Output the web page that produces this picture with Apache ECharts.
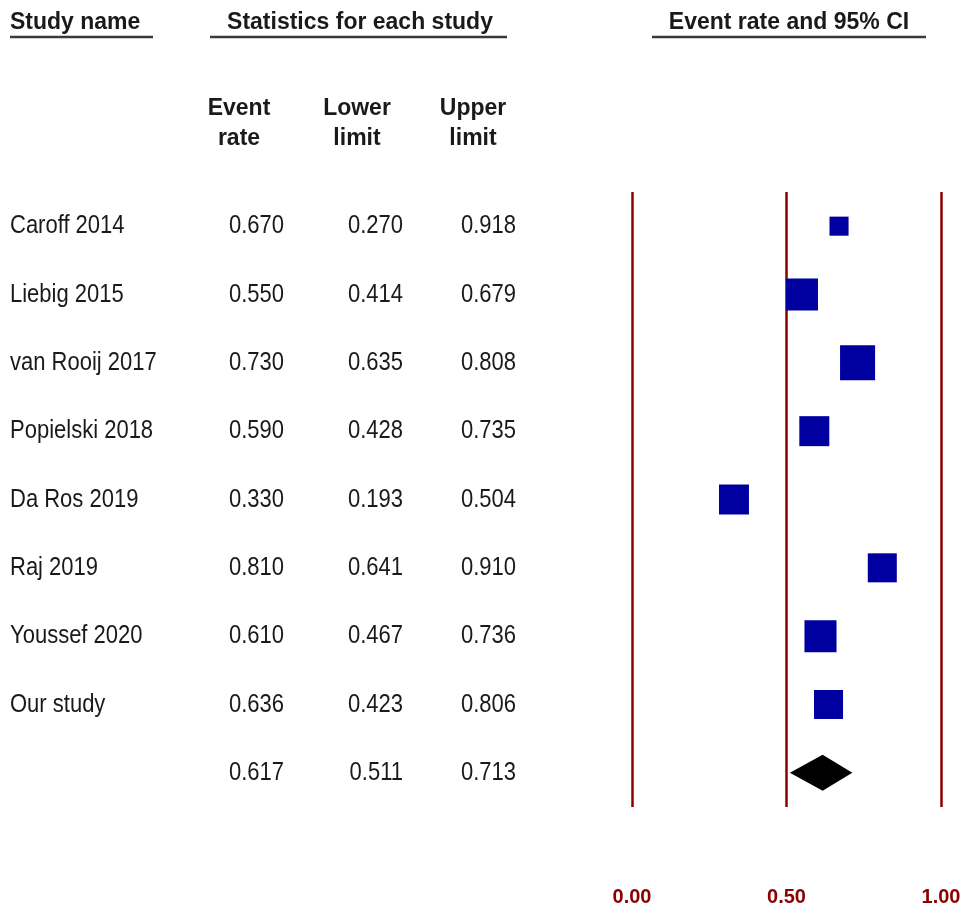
<!DOCTYPE html>
<html><head><meta charset="utf-8">
<script src="https://cdn.jsdelivr.net/npm/echarts@6/dist/echarts.min.js"></script>
<style>html,body{margin:0;padding:0;background:#fff}#c{width:966px;height:910px}</style>
</head><body><div id="c"></div>
<script>
const studies = ["Caroff 2014","Liebig 2015","van Rooij 2017","Popielski 2018","Da Ros 2019","Raj 2019","Youssef 2020","Our study"];
const eventRate = [0.670,0.550,0.730,0.590,0.330,0.810,0.610,0.636];
const lowerLimit = [0.270,0.414,0.635,0.428,0.193,0.641,0.467,0.423];
const upperLimit = [0.918,0.679,0.808,0.735,0.504,0.910,0.736,0.806];
const relWeight = [5.1,14.4,17.2,12.6,12.6,11.8,14.4,11.8];
const summary = {rate:0.617, lower:0.511, upper:0.713};
const xTicks = [0,0.5,1];
const headers = {study:"Study name", stats:"Statistics for each study", plot:"Event rate and 95% CI",
  cols:[["Event","rate"],["Lower","limit"],["Upper","limit"]]};

const rows = studies.concat([""]);
const chart = echarts.init(document.getElementById('c'), null, {renderer:'canvas'});
const RED = '#8b0000';
const FONT = '"Liberation Sans", Arial, sans-serif';

chart.setOption({
  animation:false,
  grid:{left:632, right:25, top:192, bottom:103},
  xAxis:{type:'value', min:xTicks[0], max:xTicks[xTicks.length-1], interval:xTicks[1]-xTicks[0],
    axisLine:{show:false}, axisTick:{show:false},
    splitLine:{show:true, lineStyle:{color:RED, width:2.5}},
    axisLabel:{margin:80, color:RED, fontWeight:'bold', fontSize:20, fontFamily:FONT,
      formatter:v=>v.toFixed(2)}},
  yAxis:{type:'category', inverse:true, data:rows, show:false, boundaryGap:true},
  series:[
    {type:'scatter', symbol:'rect',
     data:eventRate.map((v,i)=>({value:[v,i], symbolSize:8.45*Math.sqrt(relWeight[i])})),
     itemStyle:{color:'#0000a0', opacity:1}},
    {type:'custom',
     data:[[summary.lower, summary.rate, summary.upper, studies.length]],
     renderItem:(params, api)=>{
       const y = api.coord([0, api.value(3)])[1];
       const l = api.coord([api.value(0), 0])[0];
       const m = api.coord([api.value(1), 0])[0];
       const r = api.coord([api.value(2), 0])[0];
       const h = 18;
       return {type:'polygon', shape:{points:[[l,y],[m,y-h],[r,y],[m,y+h]]}, style:{fill:'#000'}};
     }}
  ]
});

function txt(x,y,text,opts){
  opts = opts||{};
  return {type:'text', x:x, y:y, scaleY:opts.sy||1.18, silent:true,
    style:{text:text, font:(opts.bold?'bold ':'')+(opts.size||22)+'px '+FONT,
      fill:opts.fill||'#1a1a1a', align:opts.align||'left', verticalAlign:'middle',
      textAlign:opts.align||'left', textVerticalAlign:'middle'}};
}
function line(x1,x2,y){
  return {type:'line', silent:true, shape:{x1:x1,y1:y,x2:x2,y2:y}, style:{stroke:'#3a3a3a', lineWidth:2.5}};
}
const g = [];
const HB = {bold:true,size:23,sy:1.08};
g.push(txt(10,22,headers.study,HB));
g.push(line(10,153,37));
g.push(txt(360,22,headers.stats,Object.assign({align:'center'},HB)));
g.push(line(210,507,37));
g.push(txt(789,22,headers.plot,Object.assign({align:'center'},HB)));
g.push(line(652,926,37));
const colCenters = [239,357,473];
headers.cols.forEach((c,i)=>{
  g.push(txt(colCenters[i],108,c[0],Object.assign({align:'center'},HB)));
  g.push(txt(colCenters[i],138,c[1],Object.assign({align:'center'},HB)));
});
const colRight = [284,403,516];
const rates = eventRate.concat([summary.rate]);
const lows = lowerLimit.concat([summary.lower]);
const ups = upperLimit.concat([summary.upper]);
rows.forEach((name,i)=>{
  const y = chart.convertToPixel({yAxisIndex:0}, i);
  if (name) g.push(txt(10,y,name));
  g.push(txt(colRight[0],y,rates[i].toFixed(3),{align:'right'}));
  g.push(txt(colRight[1],y,lows[i].toFixed(3),{align:'right'}));
  g.push(txt(colRight[2],y,ups[i].toFixed(3),{align:'right'}));
});
chart.setOption({graphic:g});
</script></body></html>
